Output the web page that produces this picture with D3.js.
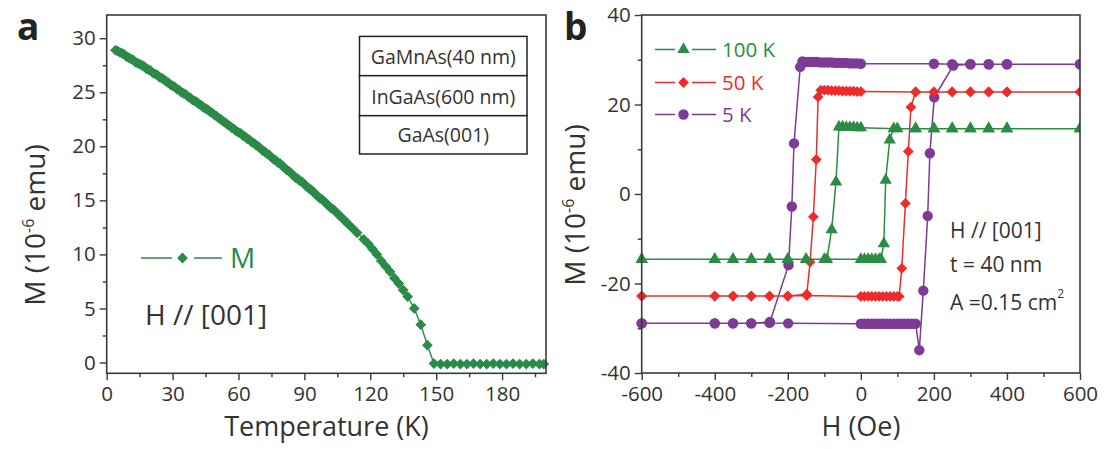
<!DOCTYPE html>
<html>
<head>
<meta charset="utf-8">
<script src="https://d3js.org/d3.v7.min.js"></script>
<style>
  html, body { margin: 0; padding: 0; background: #fff; }
  svg { display: block; font-family: "Open Sans", "Noto Sans", sans-serif; }
</style>
</head>
<body>
<svg id="chart" width="1104" height="449"></svg>
<script>
// ---------- Panel a data: M vs Temperature ----------
const tempK = [4,5,6,7,8,9,10,11,12,13,14,15,16,17,18,19,20,21,22,23,24,25,26,27,28,29,30,
  31,32,33,34,35,36,37,38,39,40,41,42,43,44,45,46,47,48,49,50,51,52,53,54,55,56,57,58,59,60,
  61,62,63,64,65,66,67,68,69,70,71,72,73,74,75,76,77,78,79,80,81,82,83,84,85,86,87,88,89,90,
  91,92,93,94,95,96,97,98,99,100,101,102,103,104,105,106,107,108,109,110,
  112,114,117,119,121,123,125,127,129,131,133,135,137,140,143,146,149,
  152,155,158,161,164,167,170,173,176,179,182,185,188,191,194,197,199];
const magA = [28.9,28.8,28.7,28.6,28.5,28.3,28.2,28.1,28.0,27.8,27.7,27.6,27.5,27.4,27.2,27.1,27.0,
  26.8,26.7,26.6,26.4,26.3,26.2,26.0,25.9,25.7,25.6,25.5,25.3,25.2,25.0,24.9,24.8,24.6,24.5,24.3,24.2,
  24.1,23.9,23.8,23.6,23.5,23.4,23.2,23.1,22.9,22.8,22.6,22.5,22.3,22.2,22.0,21.9,21.7,21.6,21.4,21.3,
  21.2,21.0,20.9,20.7,20.6,20.4,20.3,20.1,20.0,19.8,19.6,19.5,19.3,19.2,19.0,18.8,18.7,18.5,18.4,18.2,
  18.0,17.8,17.7,17.5,17.3,17.1,17.0,16.8,16.7,16.5,16.3,16.1,16.0,15.8,15.6,15.4,15.2,15.1,14.9,14.7,
  14.5,14.3,14.2,14.0,13.8,13.6,13.4,13.2,13.0,12.8,
  12.4,12.0,11.4,11.0,10.5,10.0,9.4,8.9,8.4,7.8,7.3,6.7,6.1,5.0,3.5,1.6,-0.1,
  -0.15,-0.15,-0.1,-0.15,-0.15,-0.1,-0.15,-0.15,-0.1,-0.15,-0.15,-0.1,-0.15,-0.15,-0.1,-0.15,-0.15];
const tickTempA = [0,30,60,90,120,150,180];
const minorTempA = [15,45,75,105,135,165,195];
const tickMA = [0,5,10,15,20,25,30];
const minorMA = [2.5,7.5,12.5,17.5,22.5,27.5];
const layersA = ["GaMnAs(40 nm)","InGaAs(600 nm)","GaAs(001)"];

// ---------- Panel b data: hysteresis loops (sweep down, then sweep up) ----------
const h5K = [600,400,350,300,250,200,0,-10,-20,-30,-40,-50,-60,-70,-80,-90,-100,-110,-120,-130,-140,-150,-160,
  -166,-183,-189,-198,-249,-300,-350,-400,-600,
  -600,-400,-350,-300,-250,-199,0,10,20,30,40,50,60,70,80,90,100,110,120,130,140,150,
  160,171,183,189,201,253,300,350,400,600];
const m5K = [29.0,29.0,29.0,29.0,29.0,29.1,29.1,29.2,29.2,29.2,29.3,29.3,29.3,29.3,29.4,29.4,29.4,29.4,29.5,29.5,29.5,29.5,29.6,
  28.4,11.3,-2.8,-15.9,-28.6,-28.9,-28.9,-28.9,-28.9,
  -28.9,-28.9,-28.9,-28.9,-28.8,-28.9,-29.0,-29.0,-29.0,-29.0,-29.0,-29.0,-29.0,-29.0,-29.0,-29.0,-29.0,-29.0,-29.0,-29.0,-29.0,-29.0,
  -34.9,-21.6,-4.9,9.1,21.6,28.7,29.0,29.0,29.0,29.0];
const h50K = [600,400,350,300,250,200,150,0,-10,-20,-30,-40,-50,-60,-70,-80,-90,-100,-110,
  -117,-122,-130,-139,-148,-200,-250,-300,-350,-400,-600,
  -600,-400,-350,-300,-250,-200,-148,0,10,20,30,40,50,60,70,80,90,100,105,
  112,122,130,137,150,200,250,300,350,400,600];
const m50K = [22.8,22.8,22.8,22.8,22.8,22.8,22.8,22.9,22.9,23.0,23.0,23.0,23.0,23.1,23.1,23.1,23.2,23.2,23.2,
  21.7,7.7,-5.1,-15.2,-22.4,-22.8,-22.8,-22.8,-22.8,-22.8,-22.8,
  -22.8,-22.8,-22.8,-22.8,-22.8,-22.8,-22.7,-22.9,-22.9,-22.9,-22.9,-22.9,-22.9,-22.9,-22.9,-22.9,-22.9,-22.9,-22.9,
  -16.6,-2.1,9.5,19.4,22.8,22.8,22.8,22.8,22.8,22.8,22.8];
const h100K = [600,400,350,300,250,200,150,100,0,-10,-20,-30,-40,-50,-60,
  -68,-80,-93,-150,-200,-250,-300,-350,-400,-600,
  -600,-400,-350,-300,-250,-200,-150,-100,0,10,20,30,40,50,55,
  63,68,79,90,150,200,250,300,350,400,600];
const m100K = [14.6,14.6,14.6,14.6,14.6,14.6,14.6,14.6,14.8,14.8,14.9,14.9,14.9,15.0,15.0,
  2.7,-8.0,-14.6,-14.6,-14.6,-14.6,-14.6,-14.6,-14.6,-14.6,
  -14.6,-14.6,-14.6,-14.6,-14.6,-14.6,-14.6,-14.6,-14.6,-14.6,-14.6,-14.6,-14.6,-14.6,-14.6,
  -11.1,3.1,12.1,14.6,14.6,14.6,14.6,14.6,14.6,14.6,14.6];
const seriesNames = ["100 K","50 K","5 K"];
const seriesColors = ["#2b8c44","#ee2b2b","#7d3a96"];
const tickHB = [-600,-400,-200,0,200,400,600];
const minorHB = [-500,-300,-100,100,300,500];
const tickMB = [-40,-20,0,20,40];
const minorMB = [-30,-10,10,30];

// ---------- Drawing ----------
const svg = d3.select("#chart");
const textColor = "#333";
const axisColor = "#3a3a3a";
const greenA = "#2a8a47";
const plainFmt = d => String(d);   // hyphen-minus as in the original figure

function drawAxes(g, x, y, xt, xm, yt, ym) {
  const [x0, x1] = x.range();
  const [y0, y1] = y.range();
  // minor ticks (no labels)
  g.append("g").attr("transform", `translate(0,${y0})`)
    .call(d3.axisBottom(x).tickValues(xm).tickSize(4).tickSizeOuter(0))
    .call(s => { s.select(".domain").remove(); s.selectAll("text").remove(); });
  g.append("g").attr("transform", `translate(${x0},0)`)
    .call(d3.axisLeft(y).tickValues(ym).tickSize(4).tickSizeOuter(0))
    .call(s => { s.select(".domain").remove(); s.selectAll("text").remove(); });
  // major ticks
  g.append("g").attr("transform", `translate(0,${y0})`)
    .call(d3.axisBottom(x).tickValues(xt).tickSize(7).tickPadding(6).tickSizeOuter(0).tickFormat(plainFmt))
    .call(s => s.select(".domain").remove());
  g.append("g").attr("transform", `translate(${x0},0)`)
    .call(d3.axisLeft(y).tickValues(yt).tickSize(7).tickPadding(4).tickSizeOuter(0).tickFormat(plainFmt))
    .call(s => s.select(".domain").remove());
  g.selectAll(".tick line").attr("stroke", axisColor).attr("stroke-width", 1.4);
  g.selectAll(".tick text").attr("fill", textColor).style("font-size", "20.5px")
    .style("font-family", '"Open Sans", sans-serif');
  // frame
  g.append("rect").attr("x", x0).attr("y", y1).attr("width", x1 - x0).attr("height", y0 - y1)
    .attr("fill", "none").attr("stroke", axisColor).attr("stroke-width", 1.6);
}

// ----- Panel a -----
const xA = d3.scaleLinear().domain([0, 200]).range([106.7, 546]);
const yA = d3.scaleLinear().domain([-1, 32.15]).range([373.3, 15]);
const gA = svg.append("g");
const dataA = tempK.map((t, i) => ({ x: t, y: magA[i] }));

gA.append("path").datum(dataA)
  .attr("d", d3.line().x(d => xA(d.x)).y(d => yA(d.y)))
  .attr("fill", "none").attr("stroke", greenA).attr("stroke-width", 1.4);
const diamondA = d3.symbol(d3.symbolSquare, 58);
gA.selectAll("path.mk").data(dataA).join("path").attr("class", "mk")
  .attr("d", diamondA)
  .attr("transform", d => `translate(${xA(d.x)},${yA(d.y)}) rotate(45)`)
  .attr("fill", greenA);

drawAxes(gA, xA, yA, tickTempA, minorTempA, tickMA, minorMA);

// layer stack box
const boxX0 = 359.5, boxX1 = 527, rowY = [36.4, 75.7, 115.7, 154];
layersA.forEach((name, i) => {
  gA.append("rect").attr("x", boxX0).attr("y", rowY[i]).attr("width", boxX1 - boxX0)
    .attr("height", rowY[i + 1] - rowY[i]).attr("fill", "#fff").attr("stroke", "#222").attr("stroke-width", 1.5);
  gA.append("text").attr("x", (boxX0 + boxX1) / 2).attr("y", rowY[i + 1] - 12)
    .attr("text-anchor", "middle").attr("fill", textColor).style("font-size", "19.5px").text(name);
});

// legend a
gA.append("line").attr("x1", 141).attr("x2", 222).attr("y1", 258).attr("y2", 258)
  .attr("stroke", greenA).attr("stroke-width", 1.6);
gA.append("rect").attr("x", 172).attr("y", 248).attr("width", 22).attr("height", 20).attr("fill", "#fff");
gA.append("path").attr("d", d3.symbol(d3.symbolSquare, 58))
  .attr("transform", "translate(182.5,258) rotate(45)").attr("fill", greenA);
gA.append("text").attr("x", 230).attr("y", 268).attr("fill", greenA).style("font-size", "28px").text("M");
gA.append("text").attr("x", 145).attr("y", 325).attr("fill", textColor).style("font-size", "28px").text("H // [001]");

// axis titles a
gA.append("text").attr("x", 326.5).attr("y", 436).attr("text-anchor", "middle")
  .attr("fill", textColor).style("font-size", "27px").text("Temperature (K)");
const ylA = gA.append("text").attr("transform", "translate(45,225) rotate(-90)")
  .attr("text-anchor", "middle").attr("fill", textColor).style("font-size", "28px");
ylA.append("tspan").text("M (10");
ylA.append("tspan").attr("dy", -11).style("font-size", "16px").text("-6");
ylA.append("tspan").attr("dy", 11).text(" emu)");

svg.append("text").attr("x", 17).attr("y", 40).attr("fill", "#222")
  .style("font-size", "37px").style("font-weight", "bold").text("a");

// ----- Panel b -----
const xB = d3.scaleLinear().domain([-600, 600]).range([641.7, 1080]);
const yB = d3.scaleLinear().domain([-40, 40]).range([373, 15]);
const gB = svg.append("g");
const loops = [
  { name: seriesNames[0], color: seriesColors[0], sym: d3.symbolTriangle, size: 66, h: h100K, m: m100K },
  { name: seriesNames[1], color: seriesColors[1], sym: d3.symbolSquare, size: 58, rot: 45, h: h50K, m: m50K },
  { name: seriesNames[2], color: seriesColors[2], sym: d3.symbolCircle, size: 85, h: h5K, m: m5K }
];
const lineB = d3.line().x(d => xB(d.x)).y(d => yB(d.y));
const clipId = "clipB";
svg.append("clipPath").attr("id", clipId).append("rect")
  .attr("x", 641.7 - 6).attr("y", 15 - 6).attr("width", 1080 - 641.7 + 6).attr("height", 373 - 15 + 12);
// draw 5 K first so 100 K sits on top
loops.slice().reverse().forEach(s => {
  const pts = s.h.map((h, i) => ({ x: h, y: s.m[i] }));
  const g = gB.append("g").attr("clip-path", `url(#${clipId})`);
  g.append("path").datum(pts).attr("d", lineB).attr("fill", "none")
    .attr("stroke", s.color).attr("stroke-width", 1.5);
  g.selectAll("path.mk").data(pts).join("path").attr("class", "mk")
    .attr("d", d3.symbol(s.sym, s.size))
    .attr("transform", d => `translate(${xB(d.x)},${yB(d.y)})` + (s.rot ? ` rotate(${s.rot})` : ""))
    .attr("fill", s.color);
});

drawAxes(gB, xB, yB, tickHB, minorHB, tickMB, minorMB);

// legend b
const legY = [49.5, 82.5, 114.5];
loops.forEach((s, i) => {
  gB.append("line").attr("x1", 655).attr("x2", 716).attr("y1", legY[i]).attr("y2", legY[i])
    .attr("stroke", s.color).attr("stroke-width", 1.5);
  gB.append("rect").attr("x", 675).attr("y", legY[i] - 8).attr("width", 17).attr("height", 16).attr("fill", "#fff");
  gB.append("path").attr("d", d3.symbol(s.sym, s.size))
    .attr("transform", `translate(683.5,${legY[i]})` + (s.rot ? ` rotate(${s.rot})` : ""))
    .attr("fill", s.color);
  gB.append("text").attr("x", 722).attr("y", legY[i] + 7).attr("fill", s.color)
    .style("font-size", "20.5px").text(s.name);
});

// annotations b
gB.append("text").attr("x", 950).attr("y", 238).attr("fill", textColor).style("font-size", "21px").text("H // [001]");
gB.append("text").attr("x", 950).attr("y", 272).attr("fill", textColor).style("font-size", "21px").text("t = 40 nm");
const aTxt = gB.append("text").attr("x", 950).attr("y", 310).attr("fill", textColor).style("font-size", "21px");
aTxt.append("tspan").text("A =0.15 cm");
aTxt.append("tspan").attr("dy", -12).style("font-size", "12px").text("2");

// axis titles b
gB.append("text").attr("x", 861).attr("y", 436).attr("text-anchor", "middle")
  .attr("fill", textColor).style("font-size", "27px").text("H (Oe)");
const ylB = gB.append("text").attr("transform", "translate(585,205) rotate(-90)")
  .attr("text-anchor", "middle").attr("fill", textColor).style("font-size", "28px");
ylB.append("tspan").text("M (10");
ylB.append("tspan").attr("dy", -11).style("font-size", "16px").text("-6");
ylB.append("tspan").attr("dy", 11).text(" emu)");

svg.append("text").attr("x", 564).attr("y", 40).attr("fill", "#222")
  .style("font-size", "37px").style("font-weight", "bold").text("b");
</script>
</body>
</html>
